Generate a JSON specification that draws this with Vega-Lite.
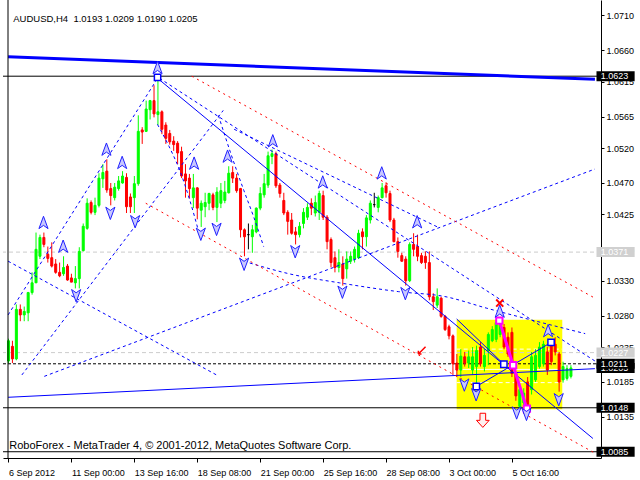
{
"$schema": "https://vega.github.io/schema/vega-lite/v6.json",
"width": 598, "height": 458,
"autosize": {"type": "none"},
"padding": {"left": 3, "top": 0, "right": 39, "bottom": 22},
"background": "white",
"config": {"view": {"stroke": null}},
"datasets": {
"candles": [
{"i":0,"o":1.0215,"h":1.0247,"l":1.0212,"c":1.0244},{"i":1,"o":1.0236,"h":1.0244,"l":1.0212,"c":1.0218},{"i":2,"o":1.0218,"h":1.0296,"l":1.0216,"c":1.0289},{"i":3,"o":1.0289,"h":1.0296,"l":1.0272,"c":1.0281},{"i":4,"o":1.0281,"h":1.0293,"l":1.0272,"c":1.0286},
{"i":5,"o":1.0284,"h":1.0314,"l":1.0272,"c":1.0313},{"i":6,"o":1.0313,"h":1.0342,"l":1.0310,"c":1.0327},{"i":7,"o":1.0327,"h":1.0399,"l":1.0327,"c":1.0375},{"i":8,"o":1.0365,"h":1.0396,"l":1.0361,"c":1.0392},{"i":9,"o":1.0392,"h":1.0399,"l":1.0378,"c":1.0382},
{"i":10,"o":1.0368,"h":1.0379,"l":1.0356,"c":1.0362},{"i":11,"o":1.0363,"h":1.0385,"l":1.0349,"c":1.0351},{"i":12,"o":1.0354,"h":1.0361,"l":1.0340,"c":1.0342},{"i":13,"o":1.0342,"h":1.0356,"l":1.0335,"c":1.0337},{"i":14,"o":1.0340,"h":1.0365,"l":1.0337,"c":1.0349},
{"i":15,"o":1.0351,"h":1.0354,"l":1.0330,"c":1.0331},{"i":16,"o":1.0334,"h":1.0340,"l":1.0328,"c":1.0328},{"i":17,"o":1.0327,"h":1.0351,"l":1.0319,"c":1.0333},{"i":18,"o":1.0333,"h":1.0378,"l":1.0319,"c":1.0372},{"i":19,"o":1.0373,"h":1.0412,"l":1.0372,"c":1.0408},
{"i":20,"o":1.0405,"h":1.0448,"l":1.0403,"c":1.0441},{"i":21,"o":1.0442,"h":1.0445,"l":1.0425,"c":1.0428},{"i":22,"o":1.0428,"h":1.0449,"l":1.0424,"c":1.0438},{"i":23,"o":1.0438,"h":1.0484,"l":1.0435,"c":1.0477},{"i":24,"o":1.0476,"h":1.0497,"l":1.0463,"c":1.0485},
{"i":25,"o":1.0487,"h":1.0504,"l":1.0456,"c":1.0460},{"i":26,"o":1.0462,"h":1.0470,"l":1.0438,"c":1.0452},{"i":27,"o":1.0449,"h":1.0470,"l":1.0445,"c":1.0464},{"i":28,"o":1.0462,"h":1.0480,"l":1.0459,"c":1.0473},{"i":29,"o":1.0470,"h":1.0487,"l":1.0469,"c":1.0480},
{"i":30,"o":1.0478,"h":1.0484,"l":1.0427,"c":1.0436},{"i":31,"o":1.0450,"h":1.0455,"l":1.0427,"c":1.0436},{"i":32,"o":1.0449,"h":1.0480,"l":1.0427,"c":1.0469},{"i":33,"o":1.0469,"h":1.0567,"l":1.0466,"c":1.0544},{"i":34,"o":1.0546,"h":1.0550,"l":1.0526,"c":1.0543},
{"i":35,"o":1.0544,"h":1.0588,"l":1.0543,"c":1.0576},{"i":36,"o":1.0575,"h":1.0589,"l":1.0561,"c":1.0588},{"i":37,"o":1.0588,"h":1.0610,"l":1.0564,"c":1.0569},{"i":38,"o":1.0568,"h":1.0621,"l":1.0553,"c":1.0572},{"i":39,"o":1.0572,"h":1.0574,"l":1.0540,"c":1.0547},
{"i":40,"o":1.0553,"h":1.0557,"l":1.0526,"c":1.0534},{"i":41,"o":1.0541,"h":1.0546,"l":1.0525,"c":1.0529},{"i":42,"o":1.0530,"h":1.0537,"l":1.0516,"c":1.0525},{"i":43,"o":1.0527,"h":1.0530,"l":1.0497,"c":1.0513},{"i":44,"o":1.0515,"h":1.0522,"l":1.0477,"c":1.0480},
{"i":45,"o":1.0483,"h":1.0497,"l":1.0449,"c":1.0473},{"i":46,"o":1.0477,"h":1.0483,"l":1.0448,"c":1.0462},{"i":47,"o":1.0449,"h":1.0483,"l":1.0434,"c":1.0463},{"i":48,"o":1.0463,"h":1.0464,"l":1.0418,"c":1.0434},{"i":49,"o":1.0431,"h":1.0445,"l":1.0407,"c":1.0441},
{"i":50,"o":1.0436,"h":1.0456,"l":1.0421,"c":1.0442},{"i":51,"o":1.0441,"h":1.0456,"l":1.0431,"c":1.0455},{"i":52,"o":1.0453,"h":1.0456,"l":1.0431,"c":1.0435},{"i":53,"o":1.0435,"h":1.0464,"l":1.0414,"c":1.0457},{"i":54,"o":1.0441,"h":1.0470,"l":1.0434,"c":1.0459},
{"i":55,"o":1.0445,"h":1.0473,"l":1.0441,"c":1.0457},{"i":56,"o":1.0456,"h":1.0494,"l":1.0455,"c":1.0484},{"i":57,"o":1.0485,"h":1.0494,"l":1.0470,"c":1.0477},{"i":58,"o":1.0477,"h":1.0483,"l":1.0456,"c":1.0459},{"i":59,"o":1.0462,"h":1.0463,"l":1.0392,"c":1.0403},
{"i":60,"o":1.0403,"h":1.0405,"l":1.0365,"c":1.0393},{"i":61,"o":1.0396,"h":1.0412,"l":1.0375,"c":1.0396},{"i":62,"o":1.0393,"h":1.0410,"l":1.0370,"c":1.0403},{"i":63,"o":1.0400,"h":1.0435,"l":1.0398,"c":1.0434},{"i":64,"o":1.0434,"h":1.0464,"l":1.0431,"c":1.0455},
{"i":65,"o":1.0453,"h":1.0483,"l":1.0449,"c":1.0469},{"i":66,"o":1.0467,"h":1.0515,"l":1.0463,"c":1.0509},{"i":67,"o":1.0508,"h":1.0518,"l":1.0497,"c":1.0512},{"i":68,"o":1.0512,"h":1.0515,"l":1.0463,"c":1.0466},{"i":69,"o":1.0467,"h":1.0470,"l":1.0449,"c":1.0455},
{"i":70,"o":1.0445,"h":1.0456,"l":1.0424,"c":1.0427},{"i":71,"o":1.0428,"h":1.0431,"l":1.0396,"c":1.0415},{"i":72,"o":1.0417,"h":1.0427,"l":1.0396,"c":1.0398},{"i":73,"o":1.0400,"h":1.0407,"l":1.0382,"c":1.0396},{"i":74,"o":1.0396,"h":1.0414,"l":1.0392,"c":1.0408},
{"i":75,"o":1.0412,"h":1.0434,"l":1.0405,"c":1.0428},{"i":76,"o":1.0421,"h":1.0441,"l":1.0417,"c":1.0435},{"i":77,"o":1.0441,"h":1.0448,"l":1.0424,"c":1.0434},{"i":78,"o":1.0427,"h":1.0452,"l":1.0422,"c":1.0442},{"i":79,"o":1.0428,"h":1.0459,"l":1.0417,"c":1.0455},
{"i":80,"o":1.0452,"h":1.0459,"l":1.0417,"c":1.0421},{"i":81,"o":1.0421,"h":1.0424,"l":1.0375,"c":1.0386},{"i":82,"o":1.0389,"h":1.0392,"l":1.0349,"c":1.0356},{"i":83,"o":1.0363,"h":1.0372,"l":1.0342,"c":1.0349},{"i":84,"o":1.0349,"h":1.0375,"l":1.0342,"c":1.0356},
{"i":85,"o":1.0354,"h":1.0365,"l":1.0323,"c":1.0333},{"i":86,"o":1.0347,"h":1.0372,"l":1.0333,"c":1.0361},{"i":87,"o":1.0358,"h":1.0372,"l":1.0354,"c":1.0365},{"i":88,"o":1.0361,"h":1.0379,"l":1.0356,"c":1.0375},{"i":89,"o":1.0363,"h":1.0403,"l":1.0361,"c":1.0398},
{"i":90,"o":1.0400,"h":1.0405,"l":1.0375,"c":1.0393},{"i":91,"o":1.0393,"h":1.0424,"l":1.0379,"c":1.0420},{"i":92,"o":1.0417,"h":1.0445,"l":1.0412,"c":1.0441},{"i":93,"o":1.0439,"h":1.0456,"l":1.0435,"c":1.0439},{"i":94,"o":1.0435,"h":1.0452,"l":1.0428,"c":1.0449},
{"i":95,"o":1.0449,"h":1.0470,"l":1.0448,"c":1.0463},{"i":96,"o":1.0466,"h":1.0471,"l":1.0449,"c":1.0456},{"i":97,"o":1.0455,"h":1.0459,"l":1.0414,"c":1.0417},{"i":98,"o":1.0417,"h":1.0420,"l":1.0385,"c":1.0386},{"i":99,"o":1.0386,"h":1.0392,"l":1.0363,"c":1.0372},
{"i":100,"o":1.0366,"h":1.0370,"l":1.0357,"c":1.0358},{"i":101,"o":1.0361,"h":1.0365,"l":1.0323,"c":1.0330},{"i":102,"o":1.0330,"h":1.0385,"l":1.0328,"c":1.0382},{"i":103,"o":1.0382,"h":1.0398,"l":1.0365,"c":1.0375},{"i":104,"o":1.0379,"h":1.0396,"l":1.0358,"c":1.0365},
{"i":105,"o":1.0366,"h":1.0370,"l":1.0354,"c":1.0356},{"i":106,"o":1.0365,"h":1.0372,"l":1.0347,"c":1.0356},{"i":107,"o":1.0356,"h":1.0372,"l":1.0302,"c":1.0307},{"i":108,"o":1.0307,"h":1.0312,"l":1.0288,"c":1.0300},{"i":109,"o":1.0295,"h":1.0319,"l":1.0291,"c":1.0307},
{"i":110,"o":1.0305,"h":1.0307,"l":1.0277,"c":1.0279},{"i":111,"o":1.0279,"h":1.0281,"l":1.0258,"c":1.0260},{"i":112,"o":1.0264,"h":1.0267,"l":1.0246,"c":1.0251},{"i":113,"o":1.0251,"h":1.0253,"l":1.0195,"c":1.0211},{"i":114,"o":1.0212,"h":1.0225,"l":1.0192,"c":1.0202},
{"i":115,"o":1.0202,"h":1.0232,"l":1.0192,"c":1.0222},{"i":116,"o":1.0221,"h":1.0228,"l":1.0207,"c":1.0212},{"i":117,"o":1.0212,"h":1.0230,"l":1.0205,"c":1.0221},{"i":118,"o":1.0202,"h":1.0235,"l":1.0195,"c":1.0221},{"i":119,"o":1.0207,"h":1.0237,"l":1.0181,"c":1.0230},
{"i":120,"o":1.0235,"h":1.0242,"l":1.0207,"c":1.0211},{"i":121,"o":1.0207,"h":1.0232,"l":1.0200,"c":1.0223},{"i":122,"o":1.0230,"h":1.0256,"l":1.0209,"c":1.0253},{"i":123,"o":1.0244,"h":1.0265,"l":1.0242,"c":1.0260},{"i":124,"o":1.0246,"h":1.0274,"l":1.0242,"c":1.0270},
{"i":125,"o":1.0253,"h":1.0272,"l":1.0249,"c":1.0267},{"i":126,"o":1.0263,"h":1.0268,"l":1.0232,"c":1.0235},{"i":127,"o":1.0249,"h":1.0256,"l":1.0221,"c":1.0225},{"i":128,"o":1.0256,"h":1.0263,"l":1.0192,"c":1.0197},{"i":129,"o":1.0197,"h":1.0200,"l":1.0158,"c":1.0165},
{"i":130,"o":1.0150,"h":1.0181,"l":1.0148,"c":1.0174},{"i":131,"o":1.0155,"h":1.0176,"l":1.0150,"c":1.0169},{"i":132,"o":1.0185,"h":1.0192,"l":1.0146,"c":1.0150},{"i":133,"o":1.0174,"h":1.0228,"l":1.0167,"c":1.0221},{"i":134,"o":1.0188,"h":1.0232,"l":1.0185,"c":1.0223},
{"i":135,"o":1.0207,"h":1.0242,"l":1.0204,"c":1.0235},{"i":136,"o":1.0211,"h":1.0244,"l":1.0207,"c":1.0239},{"i":137,"o":1.0228,"h":1.0235,"l":1.0195,"c":1.0202},{"i":138,"o":1.0237,"h":1.0244,"l":1.0209,"c":1.0214},{"i":139,"o":1.0239,"h":1.0249,"l":1.0223,"c":1.0228},
{"i":140,"o":1.0225,"h":1.0228,"l":1.0171,"c":1.0185},{"i":141,"o":1.0188,"h":1.0214,"l":1.0184,"c":1.0207},{"i":142,"o":1.0190,"h":1.0209,"l":1.0187,"c":1.0204},{"i":143,"o":1.0193,"h":1.0209,"l":1.0190,"c":1.0205}
],
"box": [{"i1":113.95,"i2":140.8,"p1":1.0274,"p2":1.0146}],
"boxlines": [
{"kind":"dash","i1":113.95,"i2":140.8,"p":1.0232},
{"kind":"solid","i1":113.95,"i2":140.8,"p":1.0203},
{"kind":"dash","i1":113.95,"i2":140.8,"p":1.0184}
],
"hlines": [
{"kind":"level","p":1.0371},{"kind":"level","p":1.0227},
{"kind":"stop","p":1.0211},
{"kind":"line","p":1.0623},{"kind":"line","p":1.0148},{"kind":"line","p":1.0085}
],
"segs": [
{"kind":"thick","i1":-0.1,"p1":1.0651,"i2":149.1,"p2":1.06185},
{"kind":"trend","i1":37.9,"p1":1.0620,"i2":148.6,"p2":1.0104},
{"kind":"trend","i1":-0.1,"p1":1.0163,"i2":149.1,"p2":1.0204},
{"kind":"fan","i1":-0.1,"p1":1.0281,"i2":37.9,"p2":1.0620},
{"kind":"fan","i1":3.4,"p1":1.0195,"i2":54.6,"p2":1.0574},
{"kind":"fan","i1":-0.1,"p1":1.0358,"i2":52.9,"p2":1.0195},
{"kind":"fan","i1":9.1,"p1":1.0193,"i2":149.1,"p2":1.0490},
{"kind":"fan","i1":38.4,"p1":1.0620,"i2":149.1,"p2":1.0215},
{"kind":"fan","i1":57.375,"p1":1.0547,"i2":109.125,"p2":1.04069},
{"kind":"red","i1":46.6,"p1":1.0623,"i2":149.1,"p2":1.0305},
{"kind":"red","i1":34.9,"p1":1.0441,"i2":149.1,"p2":1.0083},
{"kind":"pattern","i1":118.95,"p1":1.01785,"i2":137.95,"p2":1.02416},
{"kind":"pattern","i1":113.95,"p1":1.02752,"i2":125.95,"p2":1.02103}
],
"curves": [
{"grp":"a1","k":1,"i":37.875,"p":1.0554},{"grp":"a1","k":2,"i":40.875,"p":1.05218},{"grp":"a1","k":3,"i":43.625,"p":1.04868},{"grp":"a1","k":4,"i":46.125,"p":1.04447},{"grp":"a1","k":5,"i":48.375,"p":1.03999},
{"grp":"a2","k":1,"i":53.375,"p":1.05667},{"grp":"a2","k":2,"i":56.625,"p":1.05106},{"grp":"a2","k":3,"i":59.875,"p":1.04588},{"grp":"a2","k":4,"i":62.375,"p":1.04209},{"grp":"a2","k":5,"i":64.875,"p":1.03789},
{"grp":"a3","k":1,"i":59.875,"p":1.03579},{"grp":"a3","k":2,"i":71.625,"p":1.03396},{"grp":"a3","k":3,"i":84.125,"p":1.0327},{"grp":"a3","k":4,"i":99.125,"p":1.03144},{"grp":"a3","k":5,"i":110.875,"p":1.03074},{"grp":"a3","k":6,"i":121.625,"p":1.02906},{"grp":"a3","k":7,"i":146.625,"p":1.02542}
],
"pink": [{"i":124.8,"p":1.02728},{"i":128.3,"p":1.02089},{"i":131.8,"p":1.01467}],
"squares": [{"i":118.95,"p":1.01785},{"i":125.95,"p":1.02103},{"i":137.95,"p":1.02416},{"i":37.9,"p":1.06213}],
"arrows": [
{"dir":"up","i":8.9,"p":1.0413},{"dir":"up","i":13.9,"p":1.0379},{"dir":"up","i":24.9,"p":1.0518},{"dir":"up","i":28.9,"p":1.0499},{"dir":"up","i":37.9,"p":1.0635},
{"dir":"up","i":47.2,"p":1.0498},{"dir":"up","i":55.7,"p":1.0508},{"dir":"up","i":67.2,"p":1.0530},{"dir":"up","i":79.9,"p":1.0471},{"dir":"up","i":94.9,"p":1.0484},
{"dir":"up","i":103.9,"p":1.0414},{"dir":"up","i":124.9,"p":1.0286},{"dir":"up","i":137.2,"p":1.0258},
{"dir":"down","i":17.2,"p":1.0309},{"dir":"down","i":25.9,"p":1.0427},{"dir":"down","i":32.2,"p":1.0415},{"dir":"down","i":48.9,"p":1.0397},{"dir":"down","i":52.9,"p":1.0404},
{"dir":"down","i":59.9,"p":1.0354},{"dir":"down","i":72.9,"p":1.0372},{"dir":"down","i":84.9,"p":1.0314},{"dir":"down","i":100.9,"p":1.0312},{"dir":"down","i":115.9,"p":1.0181},
{"dir":"down","i":118.9,"p":1.0167},{"dir":"down","i":129.2,"p":1.0141},{"dir":"down","i":131.7,"p":1.0139},{"dir":"down","i":139.9,"p":1.0160}
],
"labels": [
{"kind":"bid","p":1.0205},{"kind":"line","p":1.0623},{"kind":"level","p":1.0371},{"kind":"level","p":1.0227},{"kind":"line","p":1.0211},{"kind":"line","p":1.0148},{"kind":"line","p":1.0085}
]
},
"layer": [
{"data":{"name":"box"},"mark":{"type":"rect","fill":"#ffff00"},
 "encoding":{
  "x":{"field":"i1","type":"quantitative","scale":{"domain":[-0.125,149.375],"nice":false,"zero":false},
   "axis":{"orient":"bottom","values":[0,16,32,48,64,80,96,112,128],"tickCount":20,
    "labelExpr":"datum.value==0?'6 Sep 2012':datum.value==16?'11 Sep 00:00':datum.value==32?'13 Sep 16:00':datum.value==48?'18 Sep 08:00':datum.value==64?'21 Sep 00:00':datum.value==80?'25 Sep 16:00':datum.value==96?'28 Sep 08:00':datum.value==112?'3 Oct 00:00':'5 Oct 16:00'",
    "labelAlign":"left","labelFont":"Liberation Sans","labelFontSize":9,"labelColor":"#000","tickColor":"#000","tickSize":4,"domainColor":"#000","labelPadding":6,"grid":false,"title":null,"labelFlush":false,"labelOverlap":false,"labelBound":false}},
  "x2":{"field":"i2"},
  "y":{"field":"p1","type":"quantitative","scale":{"domain":[1.00832,1.0725],"nice":false,"zero":false},
   "axis":{"orient":"right","values":[1.071,1.066,1.0615,1.0565,1.052,1.047,1.0425,1.0375,1.033,1.028,1.0235,1.0185,1.0135],"tickCount":30,
    "format":".4f","labelFont":"Liberation Sans","labelFontSize":9,"labelColor":"#000","tickColor":"#000","tickSize":3,"domainColor":"#000","labelPadding":2,"labelBaseline":"middle","grid":false,"title":null,"labelFlush":false,"labelOverlap":false,"labelBound":false}},
  "y2":{"field":"p2"}}},
{"data":{"name":"boxlines"},"transform":[{"filter":"datum.kind=='dash'"}],"mark":{"type":"rule","color":"#ffffff","strokeDash":[4,3],"strokeWidth":1},
 "encoding":{"x":{"field":"i1","type":"quantitative","scale":{"domain":[-0.125,149.375],"nice":false,"zero":false}},"x2":{"field":"i2"},
  "y":{"field":"p","type":"quantitative","scale":{"domain":[1.00832,1.0725],"nice":false,"zero":false}}}},
{"data":{"name":"boxlines"},"transform":[{"filter":"datum.kind=='solid'"}],"mark":{"type":"rule","color":"#ffffff","strokeWidth":1},
 "encoding":{"x":{"field":"i1","type":"quantitative","scale":{"domain":[-0.125,149.375],"nice":false,"zero":false}},"x2":{"field":"i2"},
  "y":{"field":"p","type":"quantitative","scale":{"domain":[1.00832,1.0725],"nice":false,"zero":false}}}},
{"data":{"name":"hlines"},"transform":[{"filter":"datum.kind=='level'"}],"mark":{"type":"rule","color":"#cccccc","strokeDash":[4,3],"strokeWidth":1},
 "encoding":{"y":{"field":"p","type":"quantitative","scale":{"domain":[1.00832,1.0725],"nice":false,"zero":false}}}},
{"data":{"name":"hlines"},"transform":[{"filter":"datum.kind=='stop'"}],"mark":{"type":"rule","color":"#000000","strokeDash":[3,2],"strokeWidth":1},
 "encoding":{"y":{"field":"p","type":"quantitative","scale":{"domain":[1.00832,1.0725],"nice":false,"zero":false}}}},
{"data":{"name":"hlines"},"transform":[{"filter":"datum.kind=='line'"}],"mark":{"type":"rule","color":"#000000","strokeWidth":1},
 "encoding":{"y":{"field":"p","type":"quantitative","scale":{"domain":[1.00832,1.0725],"nice":false,"zero":false}}}},
{"data":{"name":"candles"},"mark":{"type":"rule","strokeWidth":1},
 "encoding":{"x":{"field":"i","type":"quantitative","scale":{"domain":[-0.125,149.375],"nice":false,"zero":false}},
  "y":{"field":"l","type":"quantitative","scale":{"domain":[1.00832,1.0725],"nice":false,"zero":false}},"y2":{"field":"h"},
  "color":{"condition":[{"test":"datum.c > datum.o","value":"#00ff00"},{"test":"datum.c < datum.o","value":"#ff0000"}],"value":"#000000"}}},
{"data":{"name":"candles"},"mark":{"type":"bar","width":2,"strokeWidth":1},
 "encoding":{"x":{"field":"i","type":"quantitative","scale":{"domain":[-0.125,149.375],"nice":false,"zero":false}},
  "y":{"field":"o","type":"quantitative","scale":{"domain":[1.00832,1.0725],"nice":false,"zero":false}},"y2":{"field":"c"},
  "fill":{"condition":[{"test":"datum.c > datum.o","value":"#00ff00"},{"test":"datum.c < datum.o","value":"#ff0000"}],"value":"#000000"},
  "stroke":{"condition":[{"test":"datum.c > datum.o","value":"#00ff00"},{"test":"datum.c < datum.o","value":"#ff0000"}],"value":"#000000"}}},
{"data":{"name":"segs"},"transform":[{"filter":"datum.kind=='thick'"}],"mark":{"type":"rule","color":"#0000ff","strokeWidth":3},
 "encoding":{"x":{"field":"i1","type":"quantitative","scale":{"domain":[-0.125,149.375],"nice":false,"zero":false}},"x2":{"field":"i2"},
  "y":{"field":"p1","type":"quantitative","scale":{"domain":[1.00832,1.0725],"nice":false,"zero":false}},"y2":{"field":"p2"}}},
{"data":{"name":"segs"},"transform":[{"filter":"datum.kind=='trend' || datum.kind=='pattern'"}],"mark":{"type":"rule","color":"#0000ff","strokeWidth":1},
 "encoding":{"x":{"field":"i1","type":"quantitative","scale":{"domain":[-0.125,149.375],"nice":false,"zero":false}},"x2":{"field":"i2"},
  "y":{"field":"p1","type":"quantitative","scale":{"domain":[1.00832,1.0725],"nice":false,"zero":false}},"y2":{"field":"p2"}}},
{"data":{"name":"segs"},"transform":[{"filter":"datum.kind=='fan'"}],"mark":{"type":"rule","color":"#0000ff","strokeWidth":1,"strokeDash":[3,3]},
 "encoding":{"x":{"field":"i1","type":"quantitative","scale":{"domain":[-0.125,149.375],"nice":false,"zero":false}},"x2":{"field":"i2"},
  "y":{"field":"p1","type":"quantitative","scale":{"domain":[1.00832,1.0725],"nice":false,"zero":false}},"y2":{"field":"p2"}}},
{"data":{"name":"curves"},"mark":{"type":"line","color":"#0000ff","strokeWidth":1,"strokeDash":[3,3],"interpolate":"monotone"},
 "encoding":{"x":{"field":"i","type":"quantitative","scale":{"domain":[-0.125,149.375],"nice":false,"zero":false}},
  "y":{"field":"p","type":"quantitative","scale":{"domain":[1.00832,1.0725],"nice":false,"zero":false}},
  "detail":{"field":"grp","type":"nominal"},"order":{"field":"k","type":"quantitative"}}},
{"data":{"name":"segs"},"transform":[{"filter":"datum.kind=='red'"}],"mark":{"type":"rule","color":"#ff0000","strokeWidth":1,"strokeDash":[2,4]},
 "encoding":{"x":{"field":"i1","type":"quantitative","scale":{"domain":[-0.125,149.375],"nice":false,"zero":false}},"x2":{"field":"i2"},
  "y":{"field":"p1","type":"quantitative","scale":{"domain":[1.00832,1.0725],"nice":false,"zero":false}},"y2":{"field":"p2"}}},
{"data":{"name":"pink"},"mark":{"type":"line","color":"#ff00ff","strokeWidth":3},
 "encoding":{"x":{"field":"i","type":"quantitative","scale":{"domain":[-0.125,149.375],"nice":false,"zero":false}},
  "y":{"field":"p","type":"quantitative","scale":{"domain":[1.00832,1.0725],"nice":false,"zero":false}}}},
{"data":{"name":"pink"},"mark":{"type":"point","shape":"square","size":40,"filled":true,"fill":"#ffffff","stroke":"#ff00ff","strokeWidth":2,"opacity":1},
 "encoding":{"x":{"field":"i","type":"quantitative","scale":{"domain":[-0.125,149.375],"nice":false,"zero":false}},
  "y":{"field":"p","type":"quantitative","scale":{"domain":[1.00832,1.0725],"nice":false,"zero":false}}}},
{"data":{"name":"squares"},"mark":{"type":"point","shape":"square","size":40,"filled":true,"fill":"#ffffff","stroke":"#0000ff","strokeWidth":1.5,"opacity":1},
 "encoding":{"x":{"field":"i","type":"quantitative","scale":{"domain":[-0.125,149.375],"nice":false,"zero":false}},
  "y":{"field":"p","type":"quantitative","scale":{"domain":[1.00832,1.0725],"nice":false,"zero":false}}}},
{"data":{"name":"arrows"},"transform":[{"filter":"datum.dir=='up'"}],"mark":{"type":"point","shape":"M0,-1L0.7,0.9L0,0.4L-0.7,0.9Z","size":170,"filled":true,"fill":"#c8c8ff","stroke":"#2020ff","strokeWidth":1,"opacity":1},
 "encoding":{"x":{"field":"i","type":"quantitative","scale":{"domain":[-0.125,149.375],"nice":false,"zero":false}},
  "y":{"field":"p","type":"quantitative","scale":{"domain":[1.00832,1.0725],"nice":false,"zero":false}}}},
{"data":{"name":"arrows"},"transform":[{"filter":"datum.dir=='down'"}],"mark":{"type":"point","shape":"M0,1L0.7,-0.9L0,-0.4L-0.7,-0.9Z","size":170,"filled":true,"fill":"#c8c8ff","stroke":"#2020ff","strokeWidth":1,"opacity":1},
 "encoding":{"x":{"field":"i","type":"quantitative","scale":{"domain":[-0.125,149.375],"nice":false,"zero":false}},
  "y":{"field":"p","type":"quantitative","scale":{"domain":[1.00832,1.0725],"nice":false,"zero":false}}}},
{"data":{"values":[{"what":"cancel"}]},"mark":{"type":"point","shape":"M-1,-1L1,1M1,-1L-1,1","size":50,"filled":false,"stroke":"#ff0000","strokeWidth":2,"opacity":1},
 "encoding":{"x":{"datum":124.9,"scale":{"domain":[-0.125,149.375],"nice":false,"zero":false}},"y":{"datum":1.0298,"scale":{"domain":[1.00832,1.0725],"nice":false,"zero":false}}}},
{"data":{"values":[{"what":"target"}]},"mark":{"type":"point","shape":"M-0.4,-1H0.4V0H0.9L0,1L-0.9,0H-0.4Z","size":200,"filled":true,"fill":"#fff0f0","stroke":"#ff0000","strokeWidth":1,"opacity":1},
 "encoding":{"x":{"datum":120.6,"scale":{"domain":[-0.125,149.375],"nice":false,"zero":false}},"y":{"datum":1.0130,"scale":{"domain":[1.00832,1.0725],"nice":false,"zero":false}}}},
{"data":{"values":[{"what":"stop"}]},"mark":{"type":"point","shape":"M1,-1L-0.6,0.6M-0.6,0.6L-0.6,-0.1M-0.6,0.6L0.1,0.6","size":80,"filled":false,"stroke":"#ff0000","strokeWidth":1.5,"opacity":1},
 "encoding":{"x":{"datum":104.9,"scale":{"domain":[-0.125,149.375],"nice":false,"zero":false}},"y":{"datum":1.0229,"scale":{"domain":[1.00832,1.0725],"nice":false,"zero":false}}}},
{"data":{"values":[{"what":"frame"}]},"mark":{"type":"rule","color":"#000000","strokeWidth":1},
 "encoding":{"x":{"datum":-0.125,"scale":{"domain":[-0.125,149.375],"nice":false,"zero":false}}}},
{"data":{"values":[{"what":"title"}]},"mark":{"type":"text","align":"left","baseline":"middle","font":"Liberation Sans","fontSize":9.5,"color":"#000000"},
 "encoding":{"x":{"datum":1.2,"scale":{"domain":[-0.125,149.375],"nice":false,"zero":false}},"y":{"datum":1.07047,"scale":{"domain":[1.00832,1.0725],"nice":false,"zero":false}},
  "text":{"value":"AUDUSD,H4 \u00a01.0193 1.0209 1.0190 1.0205"}}},
{"data":{"values":[{"what":"footer"}]},"mark":{"type":"text","align":"left","baseline":"alphabetic","font":"Liberation Sans","fontSize":11,"color":"#000000"},
 "encoding":{"x":{"datum":0.2,"scale":{"domain":[-0.125,149.375],"nice":false,"zero":false}},"y":{"datum":1.00888,"scale":{"domain":[1.00832,1.0725],"nice":false,"zero":false}},
  "text":{"value":"RoboForex - MetaTrader 4, © 2001-2012, MetaQuotes Software Corp."}}},
{"data":{"name":"labels"},"transform":[{"filter":"datum.kind=='bid'"}],"mark":{"type":"bar","height":10,"color":"#000000"},
 "encoding":{"x":{"datum":149.5,"scale":{"domain":[-0.125,149.375],"nice":false,"zero":false}},"x2":{"datum":159.2},
  "y":{"field":"p","type":"quantitative","scale":{"domain":[1.00832,1.0725],"nice":false,"zero":false}}}},
{"data":{"name":"labels"},"transform":[{"filter":"datum.kind=='bid'"}],"mark":{"type":"text","align":"left","baseline":"middle","font":"Liberation Sans","fontSize":9,"color":"#ffffff"},
 "encoding":{"x":{"datum":150.6,"scale":{"domain":[-0.125,149.375],"nice":false,"zero":false}},
  "y":{"field":"p","type":"quantitative","scale":{"domain":[1.00832,1.0725],"nice":false,"zero":false}},
  "text":{"field":"p","type":"quantitative","format":".4f"}}},
{"data":{"name":"labels"},"transform":[{"filter":"datum.kind!='bid'"}],"mark":{"type":"bar","height":10},
 "encoding":{"x":{"datum":149.5,"scale":{"domain":[-0.125,149.375],"nice":false,"zero":false}},"x2":{"datum":159.2},
  "y":{"field":"p","type":"quantitative","scale":{"domain":[1.00832,1.0725],"nice":false,"zero":false}},
  "color":{"condition":{"test":"datum.kind=='level'","value":"#d0d0d0"},"value":"#000000"}}},
{"data":{"name":"labels"},"transform":[{"filter":"datum.kind!='bid'"}],"mark":{"type":"text","align":"left","baseline":"middle","font":"Liberation Sans","fontSize":9,"color":"#ffffff"},
 "encoding":{"x":{"datum":150.6,"scale":{"domain":[-0.125,149.375],"nice":false,"zero":false}},
  "y":{"field":"p","type":"quantitative","scale":{"domain":[1.00832,1.0725],"nice":false,"zero":false}},
  "text":{"field":"p","type":"quantitative","format":".4f"}}}
]
}
